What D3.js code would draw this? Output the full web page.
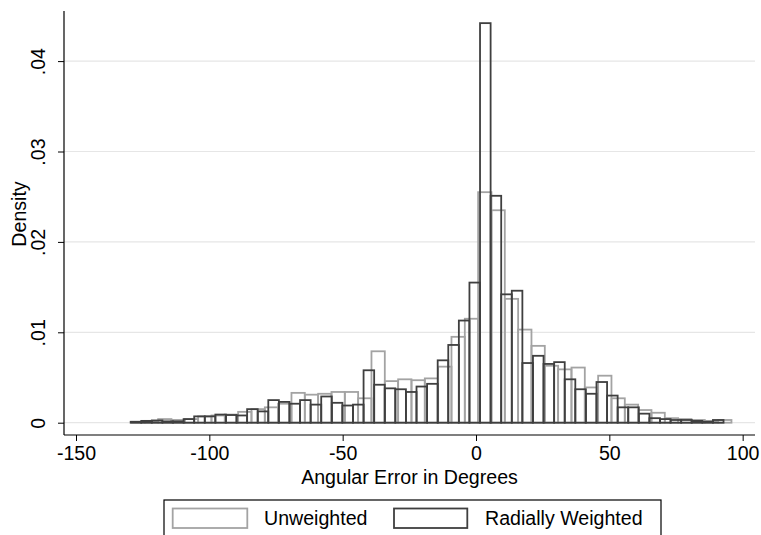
<!DOCTYPE html>
<html>
<head>
<meta charset="utf-8">
<script src="https://cdn.jsdelivr.net/npm/d3@7"></script>
<style>
  html, body { margin: 0; padding: 0; background: #fff; }
  svg { display: block; font-family: "Liberation Sans", Arial, Helvetica, sans-serif; }
</style>
</head>
<body>
<svg id="chart" width="761" height="535"></svg>
<script>
// Histogram of angular error: unweighted (5° bins) and radially weighted (~3.97° bins)
const unweightedStart = -129.2;
const unweightedWidth = 5;
const unweighted = [
  0.0001, 0.0002, 0.0004, 0.0003, 0.0004, 0.0007, 0.0008, 0.0009, 0.0012, 0.0015,
  0.0017, 0.0021, 0.0033, 0.0031, 0.0032, 0.0034, 0.0034, 0.0027, 0.0079, 0.0046,
  0.0048, 0.0047, 0.0049, 0.0062, 0.0095, 0.0115, 0.0255, 0.0235, 0.0137, 0.0103,
  0.0085, 0.0063, 0.0059, 0.0061, 0.0039, 0.0052, 0.0027, 0.0020, 0.0014, 0.0011,
  0.0005, 0.0004, 0.0003, 0.0002, 0.0003
];

const weightedStart = -129.5;
const weightedWidth = 3.97;
const weighted = [
  0.0001, 0.0002, 0.00025, 0.00015, 0.00015, 0.0004, 0.0007, 0.0007, 0.0009, 0.00085,
  0.0008, 0.0015, 0.00125, 0.0025, 0.0023, 0.0021, 0.0025, 0.0020, 0.0029, 0.0022,
  0.0019, 0.0020, 0.0058, 0.0042, 0.0038, 0.0037, 0.0034, 0.0040, 0.0043, 0.0069,
  0.0086, 0.0113, 0.0155, 0.0442, 0.0251, 0.0142, 0.0146, 0.0066, 0.0074, 0.0065,
  0.0067, 0.0048, 0.0037, 0.0032, 0.0045, 0.0030, 0.0017, 0.0017, 0.0010, 0.0005,
  0.0004, 0.0003, 0.0003, 0.0002, 0.0001, 0.0003
];

const xTicks = [-150, -100, -50, 0, 50, 100];
const yTicks = [0, 0.01, 0.02, 0.03, 0.04];
const seriesNames = ["Unweighted", "Radially Weighted"];
const xTitle = "Angular Error in Degrees";
const yTitle = "Density";

const colUnweighted = "#a3a3a3";
const colWeighted = "#3f3f3f";
const fontSize = 19.6;

const svg = d3.select("#chart");
const plot = { left: 64, right: 755, top: 11, bottom: 435 };

const x = d3.scaleLinear().domain([-150, 100]).range([76, 742.67]);
const y = d3.scaleLinear().domain([0, 0.04]).range([422.7, 61.1]);

// gridlines
svg.append("g").selectAll("line").data(yTicks).join("line")
  .attr("x1", plot.left).attr("x2", plot.right)
  .attr("y1", d => y(d)).attr("y2", d => y(d))
  .attr("stroke", "#e6e6e6").attr("stroke-width", 1.2);

function bins(values, start, width) {
  return values.map((v, i) => ({ x0: start + i * width, x1: start + (i + 1) * width, v }));
}

function drawHist(data, color) {
  svg.append("g").selectAll("rect").data(data).join("rect")
    .attr("x", d => x(d.x0))
    .attr("width", d => x(d.x1) - x(d.x0))
    .attr("y", d => y(d.v))
    .attr("height", d => y(0) - y(d.v))
    .attr("fill", "none")
    .attr("stroke", color)
    .attr("stroke-width", 1.8);
}

drawHist(bins(unweighted, unweightedStart, unweightedWidth), colUnweighted);
drawHist(bins(weighted, weightedStart, weightedWidth), colWeighted);

// axes
const yAxis = d3.axisLeft(y).tickValues(yTicks).tickSize(6).tickSizeOuter(0)
  .tickFormat(d => d === 0 ? "0" : d3.format(".2f")(d).replace(/^0/, ""));
const gy = svg.append("g").attr("transform", `translate(${plot.left},0)`).call(yAxis);
gy.select(".domain").remove();
gy.selectAll(".tick line").attr("stroke", "#000");
gy.selectAll(".tick text")
  .attr("x", null).attr("dy", null)
  .attr("transform", "translate(-19,0) rotate(-90)")
  .attr("text-anchor", "middle")
  .attr("font-size", fontSize).attr("fill", "#000")
  .attr("font-family", "Liberation Sans, Arial, sans-serif");

const xAxis = d3.axisBottom(x).tickValues(xTicks).tickSize(6).tickSizeOuter(0)
  .tickFormat(d3.format("d"));
const gx = svg.append("g").attr("transform", `translate(0,${plot.bottom})`).call(xAxis);
gx.select(".domain").remove();
gx.selectAll(".tick line").attr("stroke", "#000");
gx.selectAll(".tick text")
  .attr("y", 25).attr("dy", null)
  .attr("font-size", fontSize).attr("fill", "#000")
  .attr("font-family", "Liberation Sans, Arial, sans-serif")
  .text(d => d < 0 ? "-" + Math.abs(d) : String(d));

svg.append("line").attr("x1", plot.left).attr("x2", plot.left)
  .attr("y1", plot.top).attr("y2", plot.bottom).attr("stroke", "#000").attr("stroke-width", 1.2);
svg.append("line").attr("x1", plot.left).attr("x2", plot.right)
  .attr("y1", plot.bottom).attr("y2", plot.bottom).attr("stroke", "#000").attr("stroke-width", 1.2);

// titles
svg.append("text").attr("x", (plot.left + plot.right) / 2).attr("y", 484)
  .attr("text-anchor", "middle").attr("font-size", fontSize).text(xTitle);
svg.append("text").attr("transform", "translate(25.5,214) rotate(-90)")
  .attr("text-anchor", "middle").attr("font-size", fontSize).text(yTitle);

// legend
const lg = svg.append("g");
lg.append("rect").attr("x", 164).attr("y", 500).attr("width", 497).attr("height", 45)
  .attr("fill", "#fff").attr("stroke", "#000").attr("stroke-width", 1.2);
const legendItems = [
  { name: seriesNames[0], color: colUnweighted, sx: 172.7, sw: 74.6, tx: 264 },
  { name: seriesNames[1], color: colWeighted, sx: 394, sw: 73.3, tx: 485 }
];
legendItems.forEach(it => {
  lg.append("rect").attr("x", it.sx).attr("y", 508.5).attr("width", it.sw).attr("height", 19.5)
    .attr("fill", "none").attr("stroke", it.color).attr("stroke-width", 1.8);
  lg.append("text").attr("x", it.tx).attr("y", 525).attr("font-size", fontSize).text(it.name);
});
</script>
</body>
</html>
